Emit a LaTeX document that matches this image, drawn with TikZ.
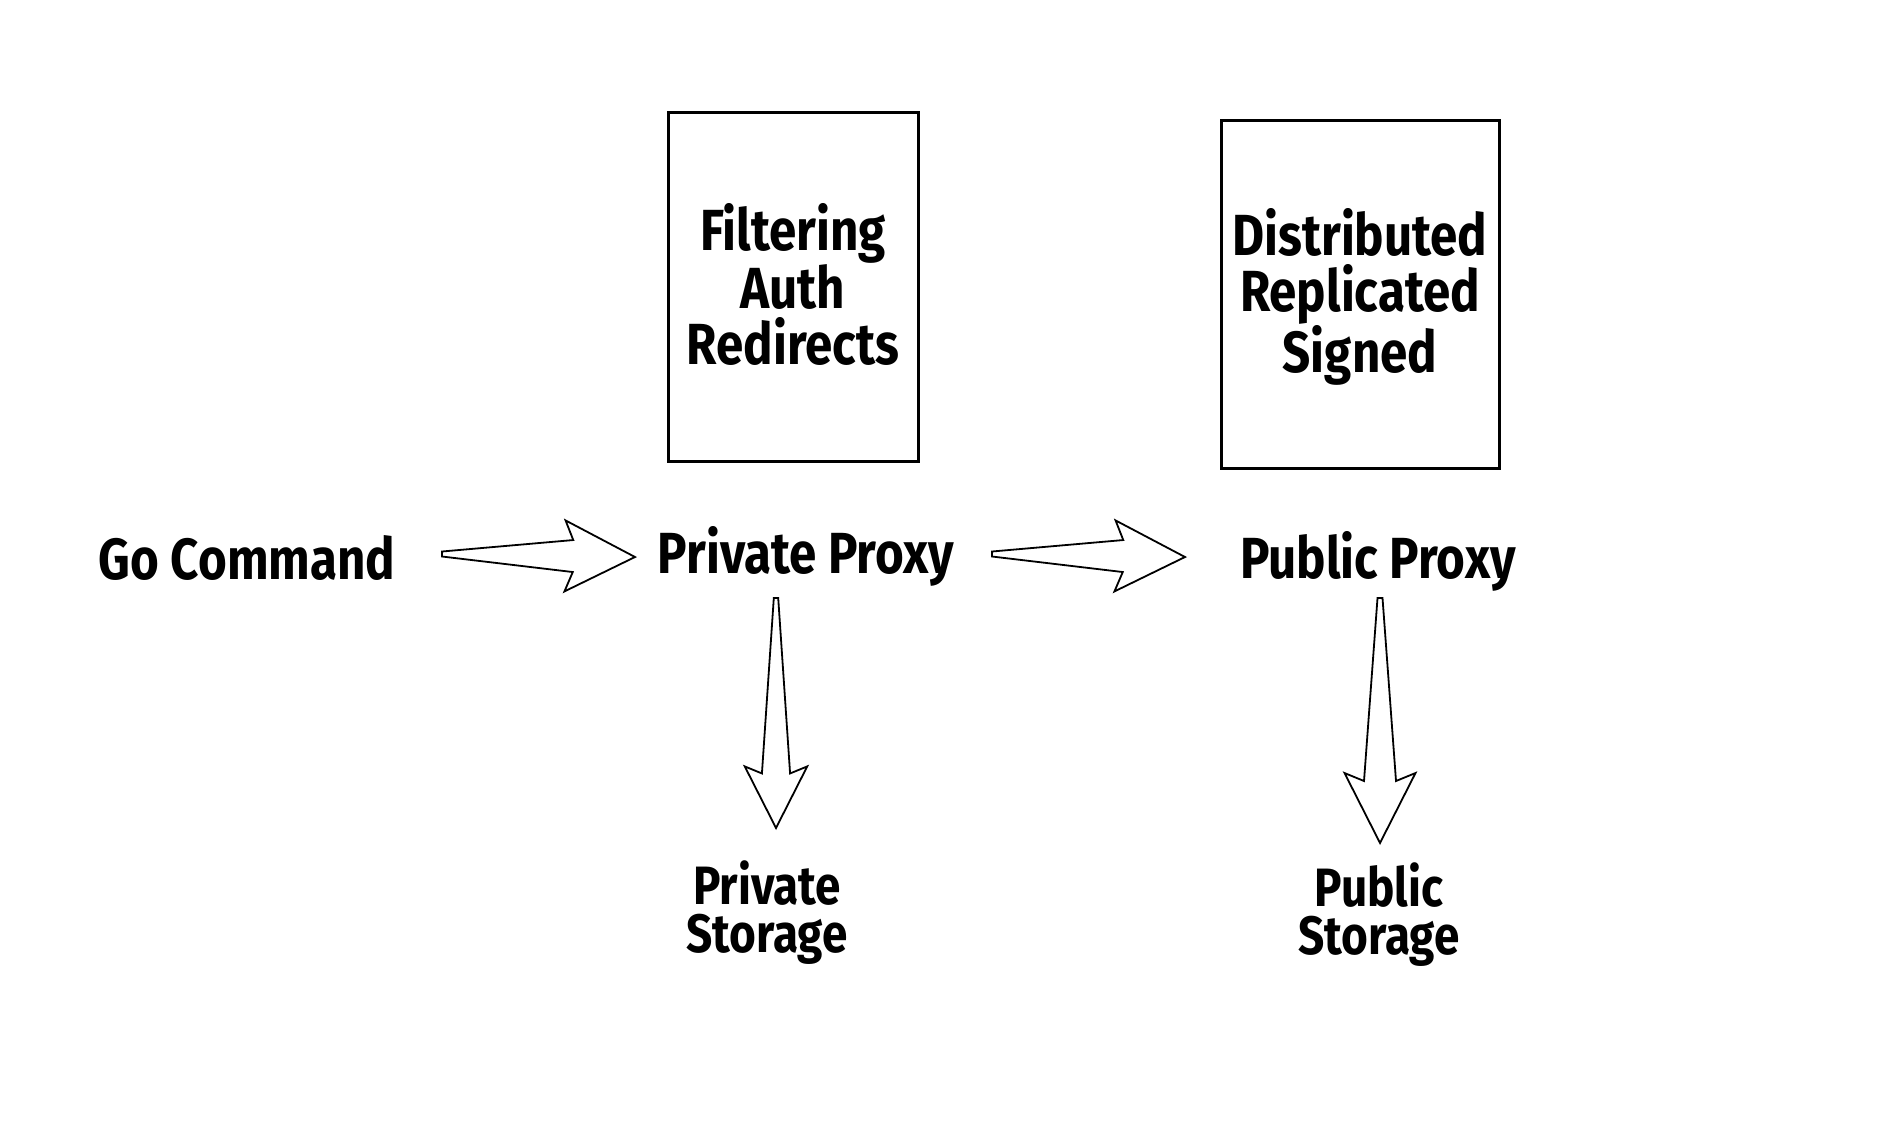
\documentclass[tikz,border=0pt]{standalone}
\usepackage{fontspec}
\setmainfont{Fira Sans}[FakeStretch=0.85]
\usepackage{tikz}
\usetikzlibrary{calc, positioning}

\tikzset{
  tagtext/.style={font=\bfseries\fontsize{58}{60}\selectfont, inner sep=0pt, anchor=base},
  boxtext/.style={font=\bfseries\fontsize{58}{55.5}\selectfont, align=center, inner sep=0pt, anchor=base},
  storetext/.style={font=\bfseries\fontsize{54}{48}\selectfont, align=center, inner sep=0pt, anchor=base},
  panel/.style={draw=black, line width=3pt, inner sep=0pt},
  hollow/.style={draw=black, fill=white, line width=1.8pt, line join=miter},
}

% hollow tapered arrow: [scale]{tail}{tip}
\newcommand{\fatarrow}[3][1]{%
  \draw[hollow]
    ($(#2)!#1*2.5pt!90:(#3)$) --
    ($(#3)!#1*62pt!(#2)!#1*16pt!-90:(#2)$) --
    ($(#3)!#1*70pt!(#2)!#1*35.5pt!-90:(#2)$) --
    (#3) --
    ($(#3)!#1*70pt!(#2)!#1*35.5pt!90:(#2)$) --
    ($(#3)!#1*62pt!(#2)!#1*16pt!90:(#2)$) --
    ($(#2)!#1*2.5pt!-90:(#3)$) -- cycle;
}

\begin{document}
\begin{tikzpicture}[x=1pt, y=-1pt]
  \useasboundingbox[fill=white] (0,0) rectangle (1902,1122);

  % boxes above the proxies
  \node[panel, minimum width=250, minimum height=349] (filterbox) at (793,286.5) {};
  \node[panel, minimum width=278, minimum height=348] (distbox) at (1360,294) {};
  \node[boxtext] (filtertext) at (793,364) {Filtering\\Auth\\Redirects};
  \node[boxtext] (disttext) at (1360,372) {Distributed\\Replicated\\Signed};

  % main row
  \node[tagtext] (go) at (247,579) {Go Command};
  \node[tagtext] (pproxy) at (806,573) {Private Proxy};
  \node[tagtext] (pubproxy) at (1378,578) {Public Proxy};

  % storage
  \node[storetext] (pstore) at (767,952) {Private\\Storage};
  \node[storetext] (pubstore) at (1379,954) {Public\\Storage};

  % arrow ends
  \coordinate (t1) at ($(go.base)+(195,-25)$);
  \coordinate (h1) at ($(pproxy.base)+(-171,-16)$);
  \coordinate (t2) at ($(pproxy.base)+(186,-19)$);
  \coordinate (h2) at ($(pubproxy.base)+(-193,-21)$);
  \coordinate (t3) at ($(pproxy.base)+(-30,25)$);
  \coordinate (h3) at ($(pstore.base)+(9,-124)$);
  \coordinate (t4) at ($(pubproxy.base)+(2,20)$);
  \coordinate (h4) at ($(pubstore.base)+(1,-111)$);

  \fatarrow{t1}{h1}
  \fatarrow{t2}{h2}
  \fatarrow[0.88]{t3}{h3}
  \fatarrow{t4}{h4}
\end{tikzpicture}
\end{document}
